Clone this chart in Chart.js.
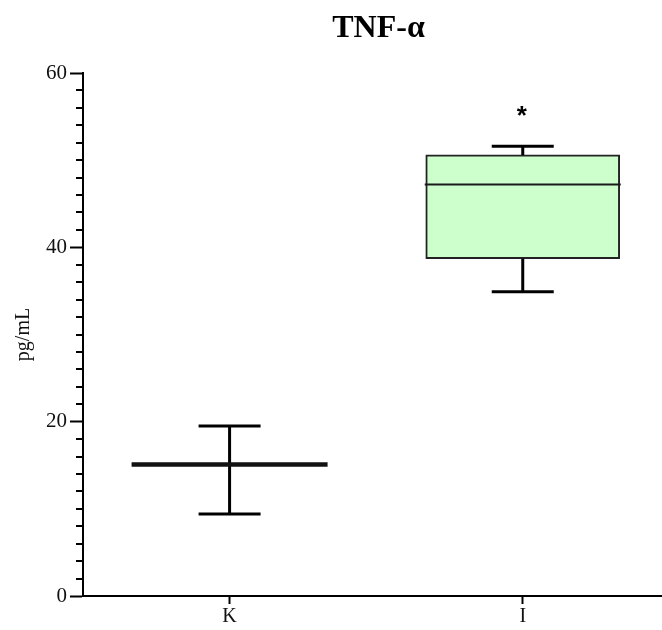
<!DOCTYPE html>
<html>
<head>
<meta charset="utf-8">
<script src="https://cdn.jsdelivr.net/npm/chart.js@4.4.1/dist/chart.umd.min.js"></script>
<style>
  html, body { margin: 0; padding: 0; background: #fff; }
  #wrap { width: 662px; height: 630px; }
</style>
</head>
<body>
<div id="wrap"><canvas id="tnfChart"></canvas></div>
<script>
// TNF-a box plot, K vs I
var categories = ['K', 'I'];
var whiskerLow = [9.4, 34.9];
var quartile1 = [15.1, 38.7];
var medians = [15.1, 47.2];
var quartile3 = [15.1, 50.6];
var whiskerHigh = [19.5, 51.6];
var marks = ['', '*'];
var yTicks = [0, 20, 40, 60];

var serif = '"Liberation Serif", "Times New Roman", serif';

// whiskers, caps and median lines on top of the boxes
var boxParts = {
    id: 'boxParts',
    afterDatasetsDraw: function (chart) {
        var ctx = chart.ctx;
        var x = chart.scales.x;
        var y = chart.scales.y;
        var meta = chart.getDatasetMeta(0);
        ctx.save();
        ctx.strokeStyle = '#000';
        ctx.lineCap = 'butt';
        for (var i = 0; i < categories.length; i++) {
            var cx = x.getPixelForValue(i);
            var half = meta.data[i].width / 2;
            var capHalf = 31;

            ctx.lineWidth = 3;
            ctx.beginPath();
            ctx.moveTo(cx, y.getPixelForValue(whiskerHigh[i]));
            ctx.lineTo(cx, y.getPixelForValue(quartile3[i]));
            ctx.moveTo(cx, y.getPixelForValue(quartile1[i]));
            ctx.lineTo(cx, y.getPixelForValue(whiskerLow[i]));
            ctx.moveTo(cx - capHalf, y.getPixelForValue(whiskerHigh[i]));
            ctx.lineTo(cx + capHalf, y.getPixelForValue(whiskerHigh[i]));
            ctx.moveTo(cx - capHalf, y.getPixelForValue(whiskerLow[i]));
            ctx.lineTo(cx + capHalf, y.getPixelForValue(whiskerLow[i]));
            ctx.stroke();

            // collapsed box -> edges and median fall on one thick line
            ctx.lineWidth = quartile1[i] === quartile3[i] ? 4.5 : 2;
            ctx.strokeStyle = quartile1[i] === quartile3[i] ? '#111' : '#1a1a1a';
            ctx.beginPath();
            ctx.moveTo(cx - half - 1, y.getPixelForValue(medians[i]));
            ctx.lineTo(cx + half + 1, y.getPixelForValue(medians[i]));
            ctx.stroke();
            ctx.strokeStyle = '#000';

            if (marks[i]) {
                ctx.fillStyle = '#000';
                ctx.font = 'bold 26px "Liberation Sans", Arial, sans-serif';
                ctx.textAlign = 'center';
                ctx.textBaseline = 'alphabetic';
                ctx.fillText(marks[i], cx - 1, y.getPixelForValue(whiskerHigh[i]) - 22);
            }
        }
        ctx.restore();
    }
};

// minor ticks every 2 units on the y axis + title
var axisExtras = {
    id: 'axisExtras',
    afterDraw: function (chart) {
        var ctx = chart.ctx;
        var y = chart.scales.y;
        var left = chart.chartArea.left;
        ctx.save();
        ctx.strokeStyle = '#000';
        ctx.lineWidth = 2;
        ctx.beginPath();
        for (var v = y.min; v <= y.max; v += 2) {
            if (yTicks.indexOf(v) !== -1) continue;
            var py = Math.round(y.getPixelForValue(v));
            ctx.moveTo(left - 7, py);
            ctx.lineTo(left, py);
        }
        ctx.stroke();

        ctx.fillStyle = '#000';
        ctx.font = 'bold 32px ' + serif;
        ctx.textAlign = 'center';
        ctx.textBaseline = 'alphabetic';
        ctx.fillText('TNF-\u03b1', (chart.chartArea.left + chart.chartArea.right) / 2 + 6, 37);
        ctx.restore();
    }
};

var boxData = categories.map(function (c, i) {
    return { x: i, y: [quartile1[i], quartile3[i]] };
});

new Chart(document.getElementById('tnfChart'), {
    type: 'bar',
    data: {
        datasets: [{
            data: boxData,
            backgroundColor: '#ccffcc',
            borderColor: '#222',
            borderWidth: 2,
            borderSkipped: false,
            barThickness: 194
        }]
    },
    options: {
        responsive: true,
        maintainAspectRatio: false,
        animation: false,
        layout: { padding: { top: 73, right: 0, bottom: 0, left: 0 } },
        plugins: {
            legend: { display: false },
            tooltip: { enabled: false },
            title: { display: false }
        },
        scales: {
            x: {
                type: 'linear',
                offset: false,
                min: -0.5,
                max: 1.475,
                afterBuildTicks: function (scale) {
                    scale.ticks = categories.map(function (c, i) { return { value: i }; });
                },
                ticks: {
                    color: '#111',
                    font: { family: serif, size: 20, lineHeight: 1 },
                    padding: 3,
                    callback: function (v) { return categories[v]; }
                },
                grid: {
                    offset: false,
                    drawOnChartArea: false,
                    tickLength: 8,
                    tickWidth: 2,
                    tickColor: '#000'
                },
                border: { display: true, color: '#000', width: 2 }
            },
            y: {
                min: 0,
                max: 60,
                afterBuildTicks: function (scale) {
                    scale.ticks = yTicks.map(function (v) { return { value: v }; });
                },
                afterFit: function (scale) { scale.width = 83; },
                ticks: {
                    color: '#111',
                    font: { family: serif, size: 21 },
                    padding: 3
                },
                grid: {
                    drawOnChartArea: false,
                    tickLength: 13,
                    tickWidth: 2,
                    tickColor: '#000'
                },
                border: { display: true, color: '#000', width: 2 },
                title: {
                    display: true,
                    text: 'pg/mL',
                    color: '#111',
                    font: { family: serif, size: 20 },
                    padding: { top: 12, bottom: 0 }
                }
            }
        }
    },
    plugins: [boxParts, axisExtras]
});
</script>
</body>
</html>
